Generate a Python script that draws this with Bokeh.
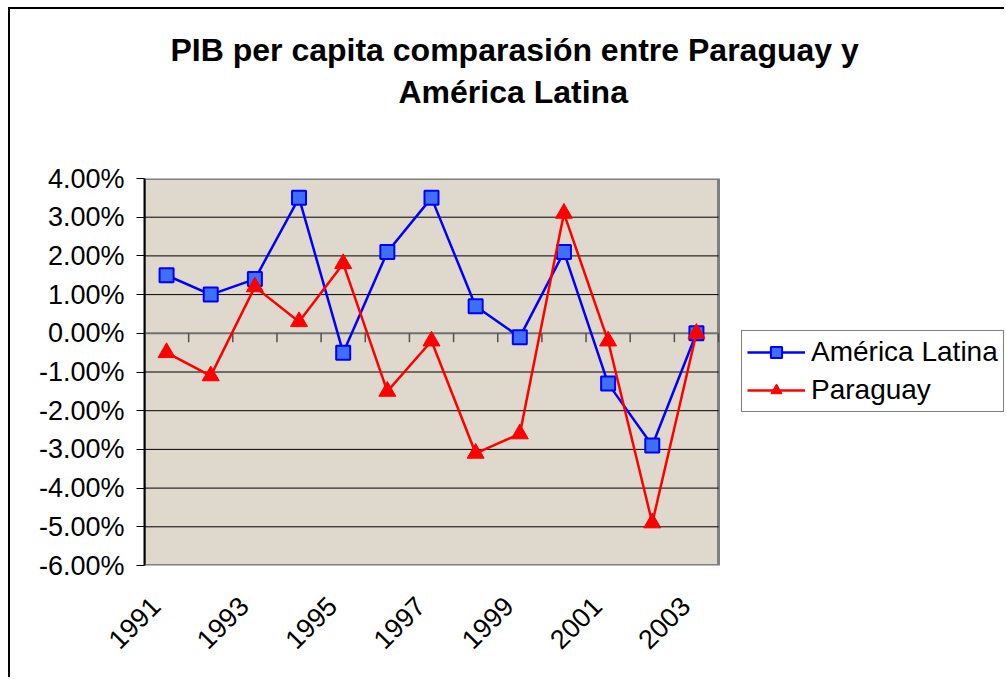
import math
from bokeh.plotting import figure
from bokeh.models import (FixedTicker, PrintfTickFormatter, Legend, LegendItem,
                          Title, Range1d)
from bokeh.embed import file_html
from bokeh.resources import INLINE

years = [1991, 1992, 1993, 1994, 1995, 1996, 1997, 1998, 1999, 2000, 2001, 2002, 2003]
america_latina = [1.5, 1.0, 1.4, 3.5, -0.5, 2.1, 3.5, 0.7, -0.1, 2.1, -1.3, -2.9, 0.0]
paraguay = [-0.5, -1.1, 1.2, 0.3, 1.8, -1.5, -0.2, -3.1, -2.6, 3.1, -0.2, -4.9, 0.0]
y_ticks = [-6, -5, -4, -3, -2, -1, 0, 1, 2, 3, 4]
title_line1 = "PIB per capita comparasión entre Paraguay y"
title_line2 = "América Latina"

FONT = "Liberation Sans"
n = len(years)
x = list(range(1, n + 1))

PLOT_W = 574      # width of the shaded plot area (px)
FRAME_W = 860     # frame extends to the right to host the legend
x_lo, x_hi = 0.5, n + 0.5
x_end = x_lo + n * FRAME_W / PLOT_W

p = figure(frame_width=FRAME_W, frame_height=387, output_backend="svg", toolbar_location=None,
           x_range=Range1d(x_lo, x_end), y_range=Range1d(y_ticks[0], y_ticks[-1]),
           min_border_left=134, min_border_top=169, min_border_right=0, min_border_bottom=112)
p.styles = {"margin-left": "8px", "margin-top": "7px",
            "border-left": "2px solid black", "border-top": "2px solid black"}

p.background_fill_color = "white"
p.border_fill_color = "white"
p.outline_line_color = None
p.xgrid.grid_line_color = None
p.ygrid.grid_line_color = None

# shaded plot area
p.quad(left=[x_lo], right=[x_hi], bottom=[y_ticks[0]], top=[y_ticks[-1]],
       fill_color="#DFD9CD", line_color="#808080", line_width=3)

# horizontal gridlines within plot area
grid_y = [t for t in y_ticks[1:-1] if t != 0]
p.segment(x0=[x_lo] * len(grid_y), x1=[x_hi] * len(grid_y), y0=grid_y, y1=grid_y,
          line_color="black", line_width=1)

# zero (category) axis line with category-boundary tick marks
p.segment(x0=[x_lo], x1=[x_hi], y0=[0], y1=[0], line_color="#707070", line_width=2)
bounds = [i + 0.5 for i in range(1, n + 1)]
p.segment(x0=bounds, x1=bounds, y0=[0] * len(bounds), y1=[-0.23] * len(bounds),
          line_color="#505050", line_width=1.5)

# y axis
p.yaxis.ticker = FixedTicker(ticks=y_ticks)
p.yaxis.formatter = PrintfTickFormatter(format="%.2f%%")
p.yaxis.axis_line_color = "black"
p.yaxis.axis_line_width = 2
p.yaxis.major_tick_line_color = "black"
p.yaxis.major_tick_out = 8
p.yaxis.major_tick_in = 0
p.yaxis.minor_tick_line_color = None
p.yaxis.major_label_text_font = FONT
p.yaxis.major_label_text_font_size = "27px"
p.yaxis.major_label_text_color = "black"
p.yaxis.major_label_standoff = 12

# x axis (labels only, at bottom)
label_pos = [i - 0.25 for i in x[::2]]
p.xaxis.ticker = FixedTicker(ticks=label_pos)
p.xaxis.major_label_overrides = {pos: str(years[i - 1]) for pos, i in zip(label_pos, x[::2])}
p.xaxis.axis_line_color = None
p.xaxis.major_tick_line_color = None
p.xaxis.minor_tick_line_color = None
p.xaxis.major_label_orientation = math.pi / 4
p.xaxis.major_label_text_font = FONT
p.xaxis.major_label_text_font_size = "27px"
p.xaxis.major_label_text_color = "black"
p.xaxis.major_label_standoff = 30

# series
l1 = p.line(x, america_latina, line_color="#0000FF", line_width=2.5)
s1 = p.scatter(x, america_latina, marker="square", size=14, fill_color="#3F6FFF",
               line_color="#0000FF", line_width=2)
l2 = p.line(x, paraguay, line_color="#FF0000", line_width=2.5)
s2 = p.scatter(x, paraguay, marker="triangle", size=17, fill_color="#FF0000",
               line_color="#FF0000", line_width=1)

legend = Legend(items=[LegendItem(label="América Latina", renderers=[l1, s1]),
                       LegendItem(label="Paraguay", renderers=[l2, s2])],
                location=(597, 153), margin=0, padding=5, spacing=6,
                glyph_width=58, glyph_height=28, label_height=28, label_standoff=6,
                label_text_font=FONT, label_text_font_size="28px", label_text_color="black",
                border_line_color="black", border_line_width=1,
                background_fill_color="white", background_fill_alpha=1)
p.add_layout(legend, "center")

# titles (spacer, second line, first line — stacked outward from the frame)
p.add_layout(Title(text=" ", standoff=29, text_font=FONT, text_font_size="32px"), "above")
p.add_layout(Title(text=title_line2, align="left", offset=254, standoff=4,
                   text_font=FONT, text_font_size="32px", text_font_style="bold",
                   text_color="black"), "above")
p.add_layout(Title(text=title_line1, align="left", offset=26, standoff=4,
                   text_font=FONT, text_font_size="32px", text_font_style="bold",
                   text_color="black"), "above")

open("out.html", "w").write(file_html(p, INLINE))
